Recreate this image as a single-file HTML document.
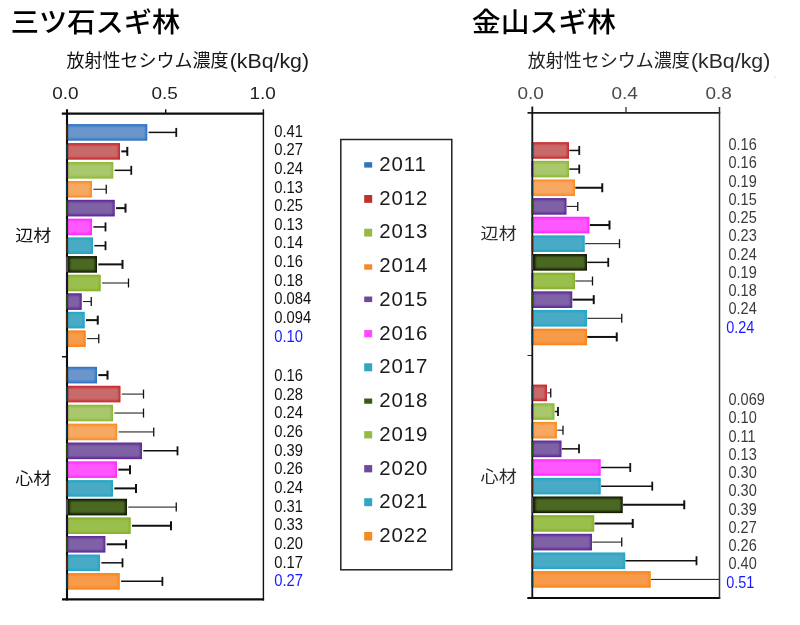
<!DOCTYPE html>
<html lang="ja"><head><meta charset="utf-8"><title>スギ林 放射性セシウム濃度</title>
<style>
html,body{margin:0;padding:0;background:#fff}
body{width:800px;height:625px;overflow:hidden;position:relative;font-family:"Liberation Sans","Noto Sans CJK JP",sans-serif}
svg{position:absolute;left:0;top:0;display:block}
.ttl{font-family:"Liberation Sans","Noto Sans CJK JP",sans-serif;font-size:27.6px;font-weight:500;fill:#000}
.sub{font-family:"Liberation Sans","Noto Sans CJK JP",sans-serif;font-size:18px;font-weight:400}
.tk{font-family:"Liberation Sans",sans-serif;font-size:15.8px}
.lat{font-family:"Liberation Sans",sans-serif;font-size:19.6px}
.v{font-family:"Liberation Sans",sans-serif;font-size:16.3px}
.w{font-family:"Liberation Sans",sans-serif;font-size:16.3px}
.cat{font-family:"Liberation Sans","Noto Sans CJK JP",sans-serif;font-size:16px}
.lg{font-family:"Liberation Sans",sans-serif;font-size:20.4px;letter-spacing:0.9px;fill:#1a1a1a}
</style></head><body>
<svg width="800" height="625" viewBox="0 0 800 625">
<defs><filter id="bl" x="-2%" y="-2%" width="104%" height="104%"><feGaussianBlur stdDeviation="0.5"/></filter><filter id="bl2" x="-2%" y="-2%" width="104%" height="104%"><feGaussianBlur stdDeviation="1"/></filter></defs>
<rect width="800" height="625" fill="#fff"/>

<text transform="translate(10.80 32.00) scale(1.023 1)" class="ttl">三ツ石スギ林</text>
<text transform="translate(471.80 32.00) scale(1.045 1)" class="ttl">金山スギ林</text>
<text x="66.5" y="67.3" class="sub" fill="#111">放射性セシウム濃度</text>
<text transform="translate(229.70 68.20) scale(1.088 1)" class="lat" fill="#1c1c1c">(kBq/kg)</text>
<text x="527.8" y="67.0" class="sub" fill="#222">放射性セシウム濃度</text>
<text transform="translate(690.90 67.90) scale(1.088 1)" class="lat" fill="#2a2a2a">(kBq/kg)</text>
<g id="left">
<text transform="translate(52.20 98.60) scale(1.2 1)" class="tk" fill="#222">0.0</text>
<text transform="translate(151.40 98.60) scale(1.2 1)" class="tk" fill="#222">0.5</text>
<text transform="translate(249.40 98.60) scale(1.2 1)" class="tk" fill="#222">1.0</text>
<g filter="url(#bl)">
<rect x="67.00" y="124.10" width="80.30" height="16.6" fill="#2a72c4"/>
<rect x="67.00" y="143.08" width="53.00" height="16.6" fill="#c8282a"/>
<rect x="67.00" y="162.03" width="46.30" height="16.6" fill="#8db834"/>
<rect x="67.00" y="180.95" width="25.00" height="16.6" fill="#fb8c24"/>
<rect x="67.00" y="199.83" width="47.75" height="16.6" fill="#5b2596"/>
<rect x="67.00" y="218.64" width="25.00" height="16.6" fill="#ff2cff"/>
<rect x="67.00" y="237.39" width="26.00" height="16.6" fill="#22a6c6"/>
<rect x="67.00" y="256.08" width="30.00" height="16.6" fill="#0c1604"/>
<rect x="67.00" y="274.70" width="33.75" height="16.6" fill="#86b22c"/>
<rect x="67.00" y="293.28" width="14.75" height="16.6" fill="#5b2596"/>
<rect x="67.00" y="311.83" width="17.75" height="16.6" fill="#22a6c6"/>
<rect x="67.00" y="330.35" width="18.75" height="16.6" fill="#fb8416"/>
</g>
<g filter="url(#bl2)">
<rect x="67.60" y="126.10" width="77.90" height="12.60" fill="#6a96cc"/>
<rect x="67.60" y="145.08" width="50.60" height="12.60" fill="#c96b6b"/>
<rect x="67.60" y="164.03" width="43.90" height="12.60" fill="#a9c76c"/>
<rect x="67.60" y="182.95" width="22.60" height="12.60" fill="#f7a863"/>
<rect x="67.60" y="201.83" width="45.35" height="12.60" fill="#7f62a6"/>
<rect x="67.60" y="220.64" width="22.60" height="12.60" fill="#ff58ff"/>
<rect x="67.60" y="239.39" width="23.60" height="12.60" fill="#4aaac6"/>
<rect x="69.60" y="258.08" width="25.60" height="12.60" fill="#4c6822"/>
<rect x="67.60" y="276.70" width="31.35" height="12.60" fill="#9bbf4d"/>
<rect x="67.60" y="295.28" width="12.35" height="12.60" fill="#7f62a6"/>
<rect x="67.60" y="313.83" width="15.35" height="12.60" fill="#4aaac6"/>
<rect x="67.60" y="332.35" width="16.35" height="12.60" fill="#f79a48"/>
</g>
<path d="M148.60 132.40H176.25" stroke="#111" stroke-width="1.5" fill="none"/>
<path d="M176.25 127.90V136.90" stroke="#111" stroke-width="1.8" fill="none"/>
<path d="M121.30 151.38H127.30" stroke="#111" stroke-width="2" fill="none"/>
<path d="M127.30 146.88V155.88" stroke="#111" stroke-width="2" fill="none"/>
<path d="M114.60 170.33H131.25" stroke="#111" stroke-width="1.5" fill="none"/>
<path d="M131.25 165.83V174.83" stroke="#111" stroke-width="1.8" fill="none"/>
<path d="M93.30 189.25H106.25" stroke="#111" stroke-width="1" fill="none"/>
<path d="M106.25 184.75V193.75" stroke="#111" stroke-width="1.3" fill="none"/>
<path d="M116.05 208.13H125.50" stroke="#111" stroke-width="2" fill="none"/>
<path d="M125.50 203.63V212.63" stroke="#111" stroke-width="2" fill="none"/>
<path d="M93.30 226.94H105.50" stroke="#111" stroke-width="1.5" fill="none"/>
<path d="M105.50 222.44V231.44" stroke="#111" stroke-width="1.8" fill="none"/>
<path d="M94.30 245.69H105.50" stroke="#111" stroke-width="1.5" fill="none"/>
<path d="M105.50 241.19V250.19" stroke="#111" stroke-width="1.8" fill="none"/>
<path d="M98.30 264.38H122.50" stroke="#111" stroke-width="2" fill="none"/>
<path d="M122.50 259.88V268.88" stroke="#111" stroke-width="2" fill="none"/>
<path d="M102.05 283.00H128.50" stroke="#111" stroke-width="1" fill="none"/>
<path d="M128.50 278.50V287.50" stroke="#111" stroke-width="1.3" fill="none"/>
<path d="M83.05 301.58H91.25" stroke="#111" stroke-width="1" fill="none"/>
<path d="M91.25 297.08V306.08" stroke="#111" stroke-width="1.3" fill="none"/>
<path d="M86.05 320.13H97.75" stroke="#111" stroke-width="2" fill="none"/>
<path d="M97.75 315.63V324.63" stroke="#111" stroke-width="2" fill="none"/>
<path d="M87.05 338.65H98.75" stroke="#111" stroke-width="1" fill="none"/>
<path d="M98.75 334.15V343.15" stroke="#111" stroke-width="1.3" fill="none"/>
<g filter="url(#bl)">
<rect x="67.00" y="366.80" width="30.00" height="16.6" fill="#2a72c4"/>
<rect x="67.00" y="385.78" width="53.50" height="16.6" fill="#c8282a"/>
<rect x="67.00" y="404.73" width="46.00" height="16.6" fill="#8db834"/>
<rect x="67.00" y="423.65" width="50.25" height="16.6" fill="#fb8c24"/>
<rect x="67.00" y="442.53" width="75.00" height="16.6" fill="#5b2596"/>
<rect x="67.00" y="461.34" width="50.00" height="16.6" fill="#ff2cff"/>
<rect x="67.00" y="480.09" width="46.00" height="16.6" fill="#22a6c6"/>
<rect x="67.00" y="498.78" width="60.00" height="16.6" fill="#0c1604"/>
<rect x="67.00" y="517.40" width="63.75" height="16.6" fill="#86b22c"/>
<rect x="67.00" y="535.98" width="38.40" height="16.6" fill="#5b2596"/>
<rect x="67.00" y="554.53" width="33.00" height="16.6" fill="#22a6c6"/>
<rect x="67.00" y="573.05" width="52.80" height="16.6" fill="#fb8416"/>
</g>
<g filter="url(#bl2)">
<rect x="67.60" y="368.80" width="27.60" height="12.60" fill="#6a96cc"/>
<rect x="67.60" y="387.78" width="51.10" height="12.60" fill="#c96b6b"/>
<rect x="67.60" y="406.73" width="43.60" height="12.60" fill="#a9c76c"/>
<rect x="67.60" y="425.65" width="47.85" height="12.60" fill="#f7a863"/>
<rect x="67.60" y="444.53" width="72.60" height="12.60" fill="#7f62a6"/>
<rect x="67.60" y="463.34" width="47.60" height="12.60" fill="#ff58ff"/>
<rect x="67.60" y="482.09" width="43.60" height="12.60" fill="#4aaac6"/>
<rect x="69.60" y="500.78" width="55.60" height="12.60" fill="#4c6822"/>
<rect x="67.60" y="519.40" width="61.35" height="12.60" fill="#9bbf4d"/>
<rect x="67.60" y="537.98" width="36.00" height="12.60" fill="#7f62a6"/>
<rect x="67.60" y="556.53" width="30.60" height="12.60" fill="#4aaac6"/>
<rect x="67.60" y="575.05" width="50.40" height="12.60" fill="#f79a48"/>
</g>
<path d="M98.30 375.10H107.50" stroke="#111" stroke-width="2" fill="none"/>
<path d="M107.50 370.60V379.60" stroke="#111" stroke-width="2" fill="none"/>
<path d="M121.80 394.08H143.50" stroke="#111" stroke-width="1" fill="none"/>
<path d="M143.50 389.58V398.58" stroke="#111" stroke-width="1.3" fill="none"/>
<path d="M114.30 413.03H143.50" stroke="#111" stroke-width="1" fill="none"/>
<path d="M143.50 408.53V417.53" stroke="#111" stroke-width="1.3" fill="none"/>
<path d="M118.55 431.95H153.75" stroke="#111" stroke-width="1" fill="none"/>
<path d="M153.75 427.45V436.45" stroke="#111" stroke-width="1.3" fill="none"/>
<path d="M143.30 450.83H177.50" stroke="#111" stroke-width="1.5" fill="none"/>
<path d="M177.50 446.33V455.33" stroke="#111" stroke-width="1.8" fill="none"/>
<path d="M118.30 469.64H130.00" stroke="#111" stroke-width="2" fill="none"/>
<path d="M130.00 465.14V474.14" stroke="#111" stroke-width="2" fill="none"/>
<path d="M114.30 488.39H136.00" stroke="#111" stroke-width="2" fill="none"/>
<path d="M136.00 483.89V492.89" stroke="#111" stroke-width="2" fill="none"/>
<path d="M128.30 507.08H176.25" stroke="#111" stroke-width="1" fill="none"/>
<path d="M176.25 502.58V511.58" stroke="#111" stroke-width="1.3" fill="none"/>
<path d="M132.05 525.70H171.00" stroke="#111" stroke-width="2" fill="none"/>
<path d="M171.00 521.20V530.20" stroke="#111" stroke-width="2" fill="none"/>
<path d="M106.70 544.28H126.10" stroke="#111" stroke-width="2" fill="none"/>
<path d="M126.10 539.78V548.78" stroke="#111" stroke-width="2" fill="none"/>
<path d="M101.30 562.83H122.50" stroke="#111" stroke-width="1.5" fill="none"/>
<path d="M122.50 558.33V567.33" stroke="#111" stroke-width="1.8" fill="none"/>
<path d="M121.10 581.35H162.40" stroke="#111" stroke-width="1.5" fill="none"/>
<path d="M162.40 576.85V585.85" stroke="#111" stroke-width="1.8" fill="none"/>
<path d="M61.8 113.7H264.1" stroke="#0c0c0c" stroke-width="2.2" fill="none"/>
<path d="M62 599.4H264.1" stroke="#0c0c0c" stroke-width="2.1" fill="none"/>
<path d="M263.4 109.2V600.4" stroke="#111" stroke-width="1.4" fill="none"/>
<path d="M67 109.2V600.4" stroke="#0c0c0c" stroke-width="2.1" fill="none"/>
<path d="M67.00 124.70V140.10" stroke="#4a2c00" stroke-width="2.1" fill="none" opacity="0.85"/>
<path d="M67.00 143.68V159.08" stroke="#064a4a" stroke-width="2.1" fill="none" opacity="0.85"/>
<path d="M67.00 162.63V178.03" stroke="#2a0e50" stroke-width="2.1" fill="none" opacity="0.85"/>
<path d="M67.00 181.55V196.95" stroke="#003c5c" stroke-width="2.1" fill="none" opacity="0.85"/>
<path d="M67.00 200.43V215.83" stroke="#33520c" stroke-width="2.1" fill="none" opacity="0.85"/>
<path d="M67.00 219.24V234.64" stroke="#0a480a" stroke-width="2.1" fill="none" opacity="0.85"/>
<path d="M67.00 237.99V253.39" stroke="#5a2a0a" stroke-width="2.1" fill="none" opacity="0.85"/>
<path d="M67.00 256.68V272.08" stroke="#5a5560" stroke-width="2.1" fill="none" opacity="0.85"/>
<path d="M67.00 275.30V290.70" stroke="#2a0e50" stroke-width="2.1" fill="none" opacity="0.85"/>
<path d="M67.00 293.88V309.28" stroke="#33520c" stroke-width="2.1" fill="none" opacity="0.85"/>
<path d="M67.00 312.43V327.83" stroke="#5a2a0a" stroke-width="2.1" fill="none" opacity="0.85"/>
<path d="M67.00 330.95V346.35" stroke="#003c5c" stroke-width="2.1" fill="none" opacity="0.85"/>
<path d="M67.00 367.40V382.80" stroke="#4a2c00" stroke-width="2.1" fill="none" opacity="0.85"/>
<path d="M67.00 386.38V401.78" stroke="#064a4a" stroke-width="2.1" fill="none" opacity="0.85"/>
<path d="M67.00 405.33V420.73" stroke="#2a0e50" stroke-width="2.1" fill="none" opacity="0.85"/>
<path d="M67.00 424.25V439.65" stroke="#003c5c" stroke-width="2.1" fill="none" opacity="0.85"/>
<path d="M67.00 443.13V458.53" stroke="#33520c" stroke-width="2.1" fill="none" opacity="0.85"/>
<path d="M67.00 461.94V477.34" stroke="#0a480a" stroke-width="2.1" fill="none" opacity="0.85"/>
<path d="M67.00 480.69V496.09" stroke="#5a2a0a" stroke-width="2.1" fill="none" opacity="0.85"/>
<path d="M67.00 499.38V514.78" stroke="#5a5560" stroke-width="2.1" fill="none" opacity="0.85"/>
<path d="M67.00 518.00V533.40" stroke="#2a0e50" stroke-width="2.1" fill="none" opacity="0.85"/>
<path d="M67.00 536.58V551.98" stroke="#33520c" stroke-width="2.1" fill="none" opacity="0.85"/>
<path d="M67.00 555.13V570.53" stroke="#5a2a0a" stroke-width="2.1" fill="none" opacity="0.85"/>
<path d="M67.00 573.65V589.05" stroke="#003c5c" stroke-width="2.1" fill="none" opacity="0.85"/>
<path d="M165.7 109.2V113M62 356.7H67" stroke="#111" stroke-width="1.4" fill="none"/>
<text transform="translate(15.30 241.40) scale(1.13 1)" class="cat" fill="#111">辺材</text>
<text transform="translate(15.30 484.40) scale(1.13 1)" class="cat" fill="#111">心材</text>
<text transform="translate(274.30 136.70) scale(0.905 1)" class="v" fill="#111">0.41</text>
<text transform="translate(274.30 155.33) scale(0.905 1)" class="v" fill="#111">0.27</text>
<text transform="translate(274.30 173.96) scale(0.905 1)" class="v" fill="#111">0.24</text>
<text transform="translate(274.30 192.59) scale(0.905 1)" class="v" fill="#111">0.13</text>
<text transform="translate(274.30 211.22) scale(0.905 1)" class="v" fill="#111">0.25</text>
<text transform="translate(274.30 229.85) scale(0.905 1)" class="v" fill="#111">0.13</text>
<text transform="translate(274.30 248.48) scale(0.905 1)" class="v" fill="#111">0.14</text>
<text transform="translate(274.30 267.11) scale(0.905 1)" class="v" fill="#111">0.16</text>
<text transform="translate(274.30 285.74) scale(0.905 1)" class="v" fill="#111">0.18</text>
<text transform="translate(274.30 304.37) scale(0.905 1)" class="v" fill="#111">0.084</text>
<text transform="translate(274.30 323.00) scale(0.905 1)" class="v" fill="#111">0.094</text>
<text transform="translate(274.30 341.63) scale(0.905 1)" class="v" fill="#1a1aff">0.10</text>
<text transform="translate(274.30 381.20) scale(0.905 1)" class="v" fill="#111">0.16</text>
<text transform="translate(274.30 399.83) scale(0.905 1)" class="v" fill="#111">0.28</text>
<text transform="translate(274.30 418.46) scale(0.905 1)" class="v" fill="#111">0.24</text>
<text transform="translate(274.30 437.09) scale(0.905 1)" class="v" fill="#111">0.26</text>
<text transform="translate(274.30 455.72) scale(0.905 1)" class="v" fill="#111">0.39</text>
<text transform="translate(274.30 474.35) scale(0.905 1)" class="v" fill="#111">0.26</text>
<text transform="translate(274.30 492.98) scale(0.905 1)" class="v" fill="#111">0.24</text>
<text transform="translate(274.30 511.61) scale(0.905 1)" class="v" fill="#111">0.31</text>
<text transform="translate(274.30 530.24) scale(0.905 1)" class="v" fill="#111">0.33</text>
<text transform="translate(274.30 548.87) scale(0.905 1)" class="v" fill="#111">0.20</text>
<text transform="translate(274.30 567.50) scale(0.905 1)" class="v" fill="#111">0.17</text>
<text transform="translate(274.30 586.13) scale(0.905 1)" class="v" fill="#1a1aff">0.27</text>
</g>
<g id="legend">
<rect x="340.8" y="139.5" width="111" height="430.3" fill="#fff" stroke="#222" stroke-width="1.5"/>
<rect x="364.2" y="162.20" width="8" height="5.4" fill="#2e75c0"/>
<text x="379.3" y="171.00" class="lg">2011</text>
<rect x="364.2" y="195.03" width="8" height="7.8" fill="#c0302c"/>
<text x="379.3" y="204.73" class="lg">2012</text>
<rect x="364.2" y="228.76" width="8" height="7.8" fill="#96b844"/>
<text x="379.3" y="238.46" class="lg">2013</text>
<rect x="364.2" y="264.29" width="8" height="5.4" fill="#f58a22"/>
<text x="379.3" y="272.19" class="lg">2014</text>
<rect x="364.2" y="296.52" width="8" height="5.6" fill="#6f4a9a"/>
<text x="379.3" y="305.92" class="lg">2015</text>
<rect x="364.2" y="329.95" width="8" height="7.4" fill="#ff4cff"/>
<text x="379.3" y="339.65" class="lg">2016</text>
<rect x="364.2" y="363.28" width="8" height="8" fill="#2fa6c4"/>
<text x="379.3" y="373.38" class="lg">2017</text>
<rect x="364.2" y="398.51" width="8" height="5.2" fill="#3a5a12"/>
<text x="379.3" y="407.11" class="lg">2018</text>
<rect x="364.2" y="431.14" width="8" height="7.3" fill="#96b844"/>
<text x="379.3" y="440.84" class="lg">2019</text>
<rect x="364.2" y="465.07" width="8" height="7.3" fill="#6f4a9a"/>
<text x="379.3" y="474.57" class="lg">2020</text>
<rect x="364.2" y="498.20" width="8" height="8" fill="#2fa6c4"/>
<text x="379.3" y="508.30" class="lg">2021</text>
<rect x="364.2" y="531.93" width="8" height="8.6" fill="#f58a22"/>
<text x="379.3" y="542.03" class="lg">2022</text>
</g>
<g id="right">
<text transform="translate(517.40 98.50) scale(1.2 1)" class="tk" fill="#4a4a4a">0.0</text>
<text transform="translate(611.40 98.50) scale(1.2 1)" class="tk" fill="#4a4a4a">0.4</text>
<text transform="translate(705.40 98.50) scale(1.2 1)" class="tk" fill="#4a4a4a">0.8</text>
<g filter="url(#bl)">
<rect x="532.60" y="142.15" width="36.40" height="16.6" fill="#c8282a"/>
<rect x="532.60" y="160.80" width="36.40" height="16.6" fill="#8db834"/>
<rect x="532.60" y="179.45" width="42.40" height="16.6" fill="#fb8c24"/>
<rect x="532.60" y="198.10" width="33.90" height="16.6" fill="#5b2596"/>
<rect x="532.60" y="216.75" width="56.90" height="16.6" fill="#ff2cff"/>
<rect x="532.60" y="235.40" width="52.15" height="16.6" fill="#22a6c6"/>
<rect x="532.60" y="254.05" width="54.40" height="16.6" fill="#0c1604"/>
<rect x="532.60" y="272.70" width="42.40" height="16.6" fill="#86b22c"/>
<rect x="532.60" y="291.35" width="39.65" height="16.6" fill="#5b2596"/>
<rect x="532.60" y="310.00" width="54.40" height="16.6" fill="#22a6c6"/>
<rect x="532.60" y="328.65" width="54.40" height="16.6" fill="#fb8416"/>
</g>
<g filter="url(#bl2)">
<rect x="533.20" y="144.15" width="34.00" height="12.60" fill="#c96b6b"/>
<rect x="533.20" y="162.80" width="34.00" height="12.60" fill="#a9c76c"/>
<rect x="533.20" y="181.45" width="40.00" height="12.60" fill="#f7a863"/>
<rect x="533.20" y="200.10" width="31.50" height="12.60" fill="#7f62a6"/>
<rect x="533.20" y="218.75" width="54.50" height="12.60" fill="#ff58ff"/>
<rect x="533.20" y="237.40" width="49.75" height="12.60" fill="#4aaac6"/>
<rect x="535.20" y="256.05" width="50.00" height="12.60" fill="#4c6822"/>
<rect x="533.20" y="274.70" width="40.00" height="12.60" fill="#9bbf4d"/>
<rect x="533.20" y="293.35" width="37.25" height="12.60" fill="#7f62a6"/>
<rect x="533.20" y="312.00" width="52.00" height="12.60" fill="#4aaac6"/>
<rect x="533.20" y="330.65" width="52.00" height="12.60" fill="#f79a48"/>
</g>
<path d="M569.30 150.45H579.25" stroke="#111" stroke-width="1.5" fill="none"/>
<path d="M579.25 145.95V154.95" stroke="#111" stroke-width="1.8" fill="none"/>
<path d="M569.30 169.10H579.25" stroke="#111" stroke-width="1.5" fill="none"/>
<path d="M579.25 164.60V173.60" stroke="#111" stroke-width="1.8" fill="none"/>
<path d="M575.30 187.75H602.25" stroke="#111" stroke-width="2" fill="none"/>
<path d="M602.25 183.25V192.25" stroke="#111" stroke-width="2" fill="none"/>
<path d="M566.80 206.40H577.75" stroke="#111" stroke-width="1" fill="none"/>
<path d="M577.75 201.90V210.90" stroke="#111" stroke-width="1.3" fill="none"/>
<path d="M589.80 225.05H609.50" stroke="#111" stroke-width="2" fill="none"/>
<path d="M609.50 220.55V229.55" stroke="#111" stroke-width="2" fill="none"/>
<path d="M585.05 243.70H619.50" stroke="#111" stroke-width="1" fill="none"/>
<path d="M619.50 239.20V248.20" stroke="#111" stroke-width="1.3" fill="none"/>
<path d="M587.30 262.35H608.25" stroke="#111" stroke-width="1.5" fill="none"/>
<path d="M608.25 257.85V266.85" stroke="#111" stroke-width="1.8" fill="none"/>
<path d="M575.30 281.00H592.50" stroke="#111" stroke-width="1" fill="none"/>
<path d="M592.50 276.50V285.50" stroke="#111" stroke-width="1.3" fill="none"/>
<path d="M572.55 299.65H593.75" stroke="#111" stroke-width="2" fill="none"/>
<path d="M593.75 295.15V304.15" stroke="#111" stroke-width="2" fill="none"/>
<path d="M587.30 318.30H621.75" stroke="#111" stroke-width="1" fill="none"/>
<path d="M621.75 313.80V322.80" stroke="#111" stroke-width="1.3" fill="none"/>
<path d="M587.30 336.95H616.75" stroke="#111" stroke-width="2" fill="none"/>
<path d="M616.75 332.45V341.45" stroke="#111" stroke-width="2" fill="none"/>
<g filter="url(#bl)">
<rect x="532.60" y="384.60" width="14.40" height="16.6" fill="#c8282a"/>
<rect x="532.60" y="403.25" width="21.90" height="16.6" fill="#8db834"/>
<rect x="532.60" y="421.90" width="24.40" height="16.6" fill="#fb8c24"/>
<rect x="532.60" y="440.55" width="28.90" height="16.6" fill="#5b2596"/>
<rect x="532.60" y="459.20" width="68.15" height="16.6" fill="#ff2cff"/>
<rect x="532.60" y="477.85" width="68.15" height="16.6" fill="#22a6c6"/>
<rect x="532.60" y="496.50" width="90.15" height="16.6" fill="#0c1604"/>
<rect x="532.60" y="515.15" width="61.65" height="16.6" fill="#86b22c"/>
<rect x="532.60" y="533.80" width="59.40" height="16.6" fill="#5b2596"/>
<rect x="532.60" y="552.45" width="92.65" height="16.6" fill="#22a6c6"/>
<rect x="532.60" y="571.10" width="118.15" height="16.6" fill="#fb8416"/>
</g>
<g filter="url(#bl2)">
<rect x="533.20" y="386.60" width="12.00" height="12.60" fill="#c96b6b"/>
<rect x="533.20" y="405.25" width="19.50" height="12.60" fill="#a9c76c"/>
<rect x="533.20" y="423.90" width="22.00" height="12.60" fill="#f7a863"/>
<rect x="533.20" y="442.55" width="26.50" height="12.60" fill="#7f62a6"/>
<rect x="533.20" y="461.20" width="65.75" height="12.60" fill="#ff58ff"/>
<rect x="533.20" y="479.85" width="65.75" height="12.60" fill="#4aaac6"/>
<rect x="535.20" y="498.50" width="85.75" height="12.60" fill="#4c6822"/>
<rect x="533.20" y="517.15" width="59.25" height="12.60" fill="#9bbf4d"/>
<rect x="533.20" y="535.80" width="57.00" height="12.60" fill="#7f62a6"/>
<rect x="533.20" y="554.45" width="90.25" height="12.60" fill="#4aaac6"/>
<rect x="533.20" y="573.10" width="115.75" height="12.60" fill="#f79a48"/>
</g>
<path d="M547.30 392.90H550.75" stroke="#111" stroke-width="1" fill="none"/>
<path d="M550.75 388.40V397.40" stroke="#111" stroke-width="1.3" fill="none"/>
<path d="M554.80 411.55H558.00" stroke="#111" stroke-width="1.5" fill="none"/>
<path d="M558.00 407.05V416.05" stroke="#111" stroke-width="1.8" fill="none"/>
<path d="M557.30 430.20H563.00" stroke="#111" stroke-width="1" fill="none"/>
<path d="M563.00 425.70V434.70" stroke="#111" stroke-width="1.3" fill="none"/>
<path d="M561.80 448.85H579.00" stroke="#111" stroke-width="1.5" fill="none"/>
<path d="M579.00 444.35V453.35" stroke="#111" stroke-width="1.8" fill="none"/>
<path d="M601.05 467.50H630.25" stroke="#111" stroke-width="1.5" fill="none"/>
<path d="M630.25 463.00V472.00" stroke="#111" stroke-width="1.8" fill="none"/>
<path d="M601.05 486.15H652.25" stroke="#111" stroke-width="1.5" fill="none"/>
<path d="M652.25 481.65V490.65" stroke="#111" stroke-width="1.8" fill="none"/>
<path d="M623.05 504.80H684.25" stroke="#111" stroke-width="2" fill="none"/>
<path d="M684.25 500.30V509.30" stroke="#111" stroke-width="2" fill="none"/>
<path d="M594.55 523.45H632.75" stroke="#111" stroke-width="2" fill="none"/>
<path d="M632.75 518.95V527.95" stroke="#111" stroke-width="2" fill="none"/>
<path d="M592.30 542.10H621.75" stroke="#111" stroke-width="1" fill="none"/>
<path d="M621.75 537.60V546.60" stroke="#111" stroke-width="1.3" fill="none"/>
<path d="M625.55 560.75H696.50" stroke="#111" stroke-width="1.5" fill="none"/>
<path d="M696.50 556.25V565.25" stroke="#111" stroke-width="1.8" fill="none"/>
<path d="M651.05 579.40H719.50" stroke="#111" stroke-width="1" fill="none"/>
<path d="M527.5 112.9H720.2" stroke="#1c1c1c" stroke-width="1.9" fill="none"/>
<path d="M527.3 598H720.2" stroke="#0c0c0c" stroke-width="1.8" fill="none"/>
<path d="M719.5 107V598.8" stroke="#333" stroke-width="1.5" fill="none"/>
<path d="M532.3 106.6V598.9" stroke="#111" stroke-width="1.8" fill="none"/>
<path d="M532.30 142.75V158.15" stroke="#064a4a" stroke-width="1.8" fill="none" opacity="0.85"/>
<path d="M532.30 161.40V176.80" stroke="#2a0e50" stroke-width="1.8" fill="none" opacity="0.85"/>
<path d="M532.30 180.05V195.45" stroke="#003c5c" stroke-width="1.8" fill="none" opacity="0.85"/>
<path d="M532.30 198.70V214.10" stroke="#33520c" stroke-width="1.8" fill="none" opacity="0.85"/>
<path d="M532.30 217.35V232.75" stroke="#0a480a" stroke-width="1.8" fill="none" opacity="0.85"/>
<path d="M532.30 236.00V251.40" stroke="#5a2a0a" stroke-width="1.8" fill="none" opacity="0.85"/>
<path d="M532.30 254.65V270.05" stroke="#5a5560" stroke-width="1.8" fill="none" opacity="0.85"/>
<path d="M532.30 273.30V288.70" stroke="#2a0e50" stroke-width="1.8" fill="none" opacity="0.85"/>
<path d="M532.30 291.95V307.35" stroke="#33520c" stroke-width="1.8" fill="none" opacity="0.85"/>
<path d="M532.30 310.60V326.00" stroke="#5a2a0a" stroke-width="1.8" fill="none" opacity="0.85"/>
<path d="M532.30 329.25V344.65" stroke="#003c5c" stroke-width="1.8" fill="none" opacity="0.85"/>
<path d="M532.30 385.20V400.60" stroke="#064a4a" stroke-width="1.8" fill="none" opacity="0.85"/>
<path d="M532.30 403.85V419.25" stroke="#2a0e50" stroke-width="1.8" fill="none" opacity="0.85"/>
<path d="M532.30 422.50V437.90" stroke="#003c5c" stroke-width="1.8" fill="none" opacity="0.85"/>
<path d="M532.30 441.15V456.55" stroke="#33520c" stroke-width="1.8" fill="none" opacity="0.85"/>
<path d="M532.30 459.80V475.20" stroke="#0a480a" stroke-width="1.8" fill="none" opacity="0.85"/>
<path d="M532.30 478.45V493.85" stroke="#5a2a0a" stroke-width="1.8" fill="none" opacity="0.85"/>
<path d="M532.30 497.10V512.50" stroke="#5a5560" stroke-width="1.8" fill="none" opacity="0.85"/>
<path d="M532.30 515.75V531.15" stroke="#2a0e50" stroke-width="1.8" fill="none" opacity="0.85"/>
<path d="M532.30 534.40V549.80" stroke="#33520c" stroke-width="1.8" fill="none" opacity="0.85"/>
<path d="M532.30 553.05V568.45" stroke="#5a2a0a" stroke-width="1.8" fill="none" opacity="0.85"/>
<path d="M532.30 571.70V587.10" stroke="#003c5c" stroke-width="1.8" fill="none" opacity="0.85"/>
<path d="M626 107V112.5M527.5 355.5H532" stroke="#222" stroke-width="1.2" fill="none"/>
<text transform="translate(480.60 239.20) scale(1.13 1)" class="cat" fill="#2a2a2a">辺材</text>
<text transform="translate(480.60 482.40) scale(1.13 1)" class="cat" fill="#2a2a2a">心材</text>
<text transform="translate(728.50 150.20) scale(0.89 1)" class="w" fill="#3a3a3a">0.16</text>
<text transform="translate(728.50 168.45) scale(0.89 1)" class="w" fill="#3a3a3a">0.16</text>
<text transform="translate(728.50 186.70) scale(0.89 1)" class="w" fill="#3a3a3a">0.19</text>
<text transform="translate(728.50 204.95) scale(0.89 1)" class="w" fill="#3a3a3a">0.15</text>
<text transform="translate(728.50 223.20) scale(0.89 1)" class="w" fill="#3a3a3a">0.25</text>
<text transform="translate(728.50 241.45) scale(0.89 1)" class="w" fill="#3a3a3a">0.23</text>
<text transform="translate(728.50 259.70) scale(0.89 1)" class="w" fill="#3a3a3a">0.24</text>
<text transform="translate(728.50 277.95) scale(0.89 1)" class="w" fill="#3a3a3a">0.19</text>
<text transform="translate(728.50 296.20) scale(0.89 1)" class="w" fill="#3a3a3a">0.18</text>
<text transform="translate(728.50 314.45) scale(0.89 1)" class="w" fill="#3a3a3a">0.24</text>
<text transform="translate(726.20 332.70) scale(0.89 1)" class="w" fill="#1a1aff">0.24</text>
<text transform="translate(728.50 405.20) scale(0.89 1)" class="w" fill="#3a3a3a">0.069</text>
<text transform="translate(728.50 423.45) scale(0.89 1)" class="w" fill="#3a3a3a">0.10</text>
<text transform="translate(728.50 441.70) scale(0.89 1)" class="w" fill="#3a3a3a">0.11</text>
<text transform="translate(728.50 459.95) scale(0.89 1)" class="w" fill="#3a3a3a">0.13</text>
<text transform="translate(728.50 478.20) scale(0.89 1)" class="w" fill="#3a3a3a">0.30</text>
<text transform="translate(728.50 496.45) scale(0.89 1)" class="w" fill="#3a3a3a">0.30</text>
<text transform="translate(728.50 514.70) scale(0.89 1)" class="w" fill="#3a3a3a">0.39</text>
<text transform="translate(728.50 532.95) scale(0.89 1)" class="w" fill="#3a3a3a">0.27</text>
<text transform="translate(728.50 551.20) scale(0.89 1)" class="w" fill="#3a3a3a">0.26</text>
<text transform="translate(728.50 569.45) scale(0.89 1)" class="w" fill="#3a3a3a">0.40</text>
<text transform="translate(726.20 587.70) scale(0.89 1)" class="w" fill="#1a1aff">0.51</text>
</g>
<rect x="774.4" y="76.6" width="1.2" height="1" fill="#b8b8f8"/>
</svg>
</body></html>
